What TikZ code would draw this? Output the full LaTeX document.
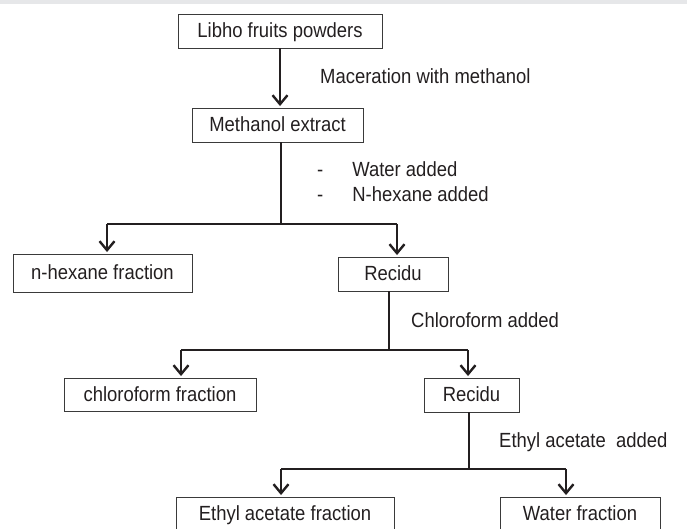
\documentclass[tikz,border=0pt]{standalone}
\usepackage{fontspec}
\setmainfont{Liberation Sans}[FakeStretch=0.9]
\usetikzlibrary{arrows.meta,calc}
\definecolor{ink}{HTML}{231F20}
\definecolor{boxc}{HTML}{3A3A3A}
\definecolor{band}{HTML}{E6E7E9}
\begin{document}
\begin{tikzpicture}[x=1pt,y=-1pt,
  every node/.style={font=\fontsize{20.5}{25}\selectfont, text=ink},
  box/.style={draw=boxc, line width=0.9pt, minimum height=34pt, inner sep=0pt, anchor=center, text height=14pt, text depth=1pt},
  conn/.style={draw=ink, line width=2.4pt},
  arr/.style={conn, -{Straight Barb[length=9pt,width=15pt,line width=2.4pt]}, shorten >=1.5pt},
  lbl/.style={anchor=west, inner sep=0pt}]
\useasboundingbox (0,0) rectangle (687,529);
\clip (0,0) rectangle (687,529);
\fill[band] (0,0) rectangle (687,4);

% boxes
\node[box, minimum width=204pt] (libho) at (280,31) {Libho fruits powders};
\node[box, minimum width=171pt] (meth) at (277.5,125) {Methanol extract};
\node[box, minimum width=179pt, minimum height=38pt] (nhex) at (102.5,273) {n-hexane fraction};
\node[box, minimum width=110pt] (rec1) at (393,274) {Recidu};
\node[box, minimum width=192pt, minimum height=33pt] (chloro) at (160,394.5) {chloroform fraction};
\node[box, minimum width=95pt] (rec2) at (471.5,395) {Recidu};
\node[box, minimum width=218pt] (ethyl) at (285,514) {Ethyl acetate fraction};
\node[box, minimum width=160pt] (water) at (580,514) {Water fraction};

% labels
\node[lbl] (lmac) at (320,76) {Maceration with methanol};
\node[lbl] (lwat) at (317,184.5) {\begin{tabular}{@{}l@{\hspace{29pt}}l@{}}-&Water added\\-&N-hexane added\end{tabular}};
\node[lbl] (lchl) at (411,320) {Chloroform added};
\node[lbl] (leth) at (499,442) {Ethyl acetate\ \ added};

% junctions and arrow columns
\coordinate (j1) at (281,224);
\coordinate (j2) at (389,350);
\coordinate (j3) at (469,469);
\coordinate (c1) at (107,0);
\coordinate (c2) at (397,0);
\coordinate (c3) at (181,0);
\coordinate (c4) at (468,0);
\coordinate (c5) at (281,0);
\coordinate (c6) at (566,0);

% connectors
\draw[arr] (libho.south) -- (libho.south |- meth.north);

\draw[conn] (meth.south -| j1) -- (j1);
\draw[conn] (j1) -- (j1 -| c1);
\draw[conn] (j1) -- (j1 -| c2);
\draw[arr] (j1 -| c1) -- (nhex.north -| c1);
\draw[arr] (j1 -| c2) -- (rec1.north -| c2);

\draw[conn] (rec1.south -| j2) -- (j2);
\draw[conn] (j2) -- (j2 -| c3);
\draw[conn] (j2) -- (j2 -| c4);
\draw[arr] (j2 -| c3) -- (chloro.north -| c3);
\draw[arr] (j2 -| c4) -- (rec2.north -| c4);

\draw[conn] (rec2.south -| j3) -- (j3);
\draw[conn] (j3) -- (j3 -| c5);
\draw[conn] (j3) -- (j3 -| c6);
\draw[arr] (j3 -| c5) -- (ethyl.north -| c5);
\draw[arr] (j3 -| c6) -- (water.north -| c6);
\end{tikzpicture}
\end{document}
